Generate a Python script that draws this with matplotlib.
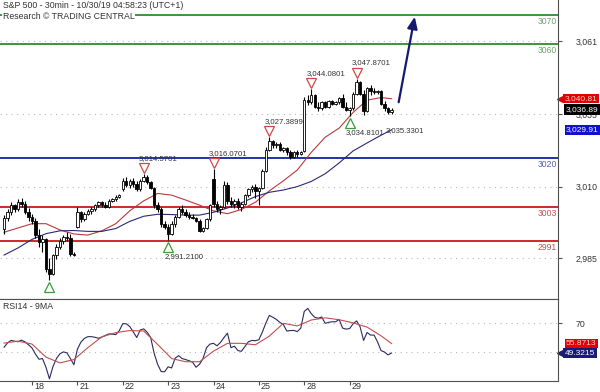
import matplotlib
matplotlib.use("Agg")
import matplotlib.pyplot as plt
import matplotlib.transforms as mtransforms

plt.rcParams["font.family"] = ["Liberation Sans", "DejaVu Sans"]

# S&P 500 30min bars, Oct 17 (last bars) to Oct 29
opens = [2995, 2999, 3001, 3003.5, 3002, 3004.5, 3003.8, 3001,
         2999.5, 2998, 2993, 2990.5, 2991.5, 2981, 2979.5, 2986, 2989, 2991, 2992.5, 2992, 2986.5,
         2996, 3001, 2998.5, 3000.5, 3001.5, 3002, 3003.5, 3004.5, 3003.5, 3003, 3005, 3005.5, 3006.5,
         3009, 3012, 3010.5, 3012, 3010.8, 3009, 3012, 3013.5, 3011.5, 3009.5, 3003.5, 3002, 2997,
         2995.8, 2993.5, 2997, 2999.5, 3002, 3001, 3000, 2999.5, 2999, 2998, 2994.5, 2995.5, 2998.5,
         3012.5, 3004, 3002, 3003, 3010.5, 3005, 3004, 3005, 3003, 3004, 3007, 3009, 3010,
         3008.5, 3009.5, 3015.5, 3023, 3026, 3024.5, 3025, 3023, 3023.5, 3022, 3020.5, 3022, 3021.5,
         3022.5, 3040.5, 3039.5, 3042, 3038, 3037.5, 3039.5, 3038, 3040, 3039, 3039.5, 3041, 3038,
         3037, 3037.5, 3042.5, 3046.5, 3042.5, 3036.5, 3044.5, 3043.5, 3043, 3043.5, 3039, 3037.5, 3036]
highs = [3000, 3002, 3004.5, 3004, 3005.5, 3006, 3005, 3002.5,
         3000.5, 2999, 2995, 2993, 2992, 2985, 2986.5, 2990, 2992, 2993, 2994, 2993.5, 2987,
         3003, 3001.5, 3001, 3002, 3003, 3004, 3005, 3005, 3004.5, 3005.5, 3006, 3007, 3007.5,
         3013, 3013.5, 3012.5, 3013, 3012, 3012.5, 3014.57, 3014, 3012, 3010, 3004.5, 3003, 2998,
         2997, 2998, 3000, 3003, 3003.5, 3002, 3001, 3000.5, 2999.5, 2998.5, 2996, 2999, 3004,
         3016.07, 3005, 3003.5, 3012, 3011.5, 3006.5, 3005.5, 3006, 3004.5, 3007.5, 3009.5, 3010.5, 3011,
         3010, 3016, 3024, 3027.39, 3026.5, 3025.5, 3025.5, 3024, 3024, 3023, 3022.5, 3023, 3022.5,
         3041.5, 3042, 3044.08, 3042.5, 3039.5, 3040, 3040, 3040.5, 3040.5, 3040, 3041.5, 3042.5, 3039.5,
         3038, 3043, 3047.87, 3047, 3044, 3045, 3045.5, 3044.5, 3044, 3044, 3040, 3038, 3037.5]
lows = [2993.5, 2998, 3000, 3001, 3001.5, 3003, 3000.5, 2998,
        2997, 2992, 2989, 2987, 2980, 2977.2, 2979, 2984.5, 2988, 2990, 2991, 2985.5, 2985.5,
        2995.5, 2997.5, 2998, 3000, 3000.5, 3001.5, 3003, 3003, 3002.5, 3002.5, 3004.5, 3005, 3006,
        3008.5, 3010, 3009.5, 3010, 3008.5, 3008.5, 3011.5, 3011, 3009, 3002.5, 3001, 2996, 2995,
        2991.21, 2993, 2996, 2999, 3000.5, 2999.5, 2998.5, 2998.5, 2997.5, 2994, 2994, 2995, 2998,
        3003, 3001, 3000.5, 3002.5, 3004, 3003, 3002.5, 3002, 3001.5, 3003.5, 3006.5, 3008, 3006,
        3003.5, 3009, 3015, 3022.5, 3023.5, 3023.5, 3022.5, 3022, 3021, 3019.5, 3020, 3020.5, 3021,
        3022, 3038.5, 3039, 3037.5, 3036.5, 3037, 3037.5, 3037.5, 3038.5, 3038.5, 3039, 3037.5, 3036.5,
        3034.81, 3037, 3042, 3042, 3035, 3036, 3042, 3042.5, 3042.5, 3038.5, 3036.5, 3035.5, 3035.33]
closes = [2999, 3001, 3003.5, 3002, 3004.5, 3003.8, 3001, 2999.5,
          2998, 2993, 2990.5, 2991.5, 2981, 2979.5, 2986, 2989, 2991, 2992.5, 2992, 2986.5, 2986,
          3001, 2998.5, 3000.5, 3001.5, 3002, 3003.5, 3004.5, 3003.5, 3003, 3005, 3005.5, 3006.5, 3007,
          3012, 3010.5, 3012, 3010.8, 3009, 3012, 3013.5, 3011.5, 3009.5, 3003.5, 3002, 2997, 2995.8,
          2993.5, 2997, 2999.5, 3002, 3001, 3000, 2999.5, 2999, 2998, 2994.5, 2995.5, 2998.5, 3003.5,
          3004, 3002, 3003, 3010.5, 3005, 3004, 3005, 3003, 3004, 3007, 3009, 3010, 3008.5,
          3009.5, 3015.5, 3023, 3026, 3024.5, 3025, 3023, 3023.5, 3022, 3020.5, 3022, 3021.5, 3022,
          3040.5, 3039.5, 3042, 3038, 3037.5, 3039.5, 3038, 3040, 3039, 3039.5, 3041, 3038, 3037,
          3037.5, 3042.5, 3046.5, 3042.5, 3036.5, 3044.5, 3043.5, 3043, 3043.5, 3039, 3037.5, 3036, 3036.89]

# first bar of each day and its label
day_start = [8, 21, 34, 47, 60, 73, 86, 99]
day_labels = ["18", "21", "22", "23", "24", "25", "28", "29"]

# moving averages, read every 4 bars
ma_idx = [0, 4, 8, 12, 16, 20, 24, 28, 32, 36, 40, 44, 48, 52, 56, 60, 64, 68, 72, 76,
          80, 84, 88, 92, 96, 100, 104, 108, 111]
ma_fast = [2994, 2995.5, 2997, 2997, 2994.8, 2993.4, 2993, 2994.5, 2997, 3001.5, 3005, 3007.6,
           3007, 3005.3, 3003.5, 3001.5, 3000.5, 3002, 3004.5, 3008.5, 3012, 3015.8, 3022,
           3027.3, 3030.5, 3036, 3040.3, 3041.2, 3040.8]
ma_slow = [2986, 2988.5, 2991.5, 2993.5, 2994.5, 2994.6, 2994.3, 2994.3, 2995.3, 2997.8, 2999.6,
           3000.3, 3000.2, 3000, 3000, 3001, 3002.5, 3004.3, 3006.5, 3008, 3008.8, 3010, 3011.8,
           3014.5, 3018.3, 3022.5, 3025.3, 3028, 3029.9]

rsi = [53.3, 56.3, 58, 57.5, 57.1, 58.2, 57, 55,
       52.8, 48.5, 45, 45.5, 39.5, 31.5, 39.9, 45.5, 48.8, 50.1, 49.4, 45.5, 41.2,
       51.9, 56.8, 59.4, 60.6, 60.6, 60.2, 59.5, 60.3, 61.4, 62.5, 62.4, 62, 64.7,
       69.6, 69.5, 67.6, 64, 60, 65.2, 66, 63.6, 60, 49, 41.5, 36.5, 36.4,
       39.8, 39, 45.7, 47.5, 45.5, 44.8, 44, 43, 39.5, 41.6, 45.5, 53, 55.5,
       56, 54.3, 56.6, 60, 63, 53, 54, 51, 50.5, 53.8, 57.1, 58, 57.8,
       58.5, 63.8, 70, 75.3, 74, 72.5, 70.5, 69, 64.5, 64.8, 64.9, 64.1, 66.5,
       78, 80.1, 76.5, 74, 73.3, 74.2, 69.8, 70.5, 70.9, 70.9, 72.5, 66.5, 65.8,
       66.2, 69.5, 71.5, 67.4, 58, 63.5, 61.7, 61.7, 57, 51, 50, 48, 49.3]
rsi_ma = [56.2, 57.5, 55.5, 46.5, 42.5, 44.8, 53, 60.5, 63.4, 64.8, 64.5, 55.2, 45.5, 43.3,
          43.3, 50.6, 56, 56, 55, 61, 69.8, 68, 72.1, 73.6, 72.3, 70.1, 67.2, 61.2, 55.9]

levels = [3070, 3060, 3020, 3003, 2991]
level_colors = ["#3a963a", "#3a963a", "#2030b0", "#d02828", "#d02828"]
level_text_colors = ["#6aa66a", "#6aa66a", "#5560a8", "#c05050", "#c05050"]

peaks = [(40, 3014.5701), (60, 3016.0701), (76, 3027.3899), (88, 3044.0801), (101, 3047.8701)]
troughs = [(13, 2977.2), (47, 2991.21), (99, 3034.8101)]
trough_labels = [(47, 2991.21), (99, 3034.8101), (111, 3035.3301)]

fig = plt.figure(figsize=(6, 3.92), dpi=100)
ax = fig.add_axes([0, 1 - 299 / 392, 558 / 600, 299 / 392])
ax2 = fig.add_axes([0, 11 / 392, 558 / 600, 82 / 392], sharex=ax)

edge = "#505050"
text_col = "#333333"

# price panel
for lv, c in zip(levels, level_colors):
    ax.axhline(lv, color=c, lw=1.4, zorder=1)
for lv, c in zip(levels, level_text_colors):
    ax.annotate(str(lv), xy=(1, lv), xycoords=ax.get_yaxis_transform(),
                xytext=(-1, -2), textcoords="offset pixels", ha="right", va="top",
                fontsize=6.2, color=c)

ax.plot(ma_idx, ma_fast, color="#b83a3a", lw=0.8, zorder=2)
ax.plot(ma_idx, ma_slow, color="#2a2a78", lw=0.8, zorder=2)

idx = range(len(closes))
ax.vlines(idx, lows, highs, color="black", lw=0.8, zorder=3)
for i in idx:
    o, c = opens[i], closes[i]
    h = max(abs(c - o), 0.25)
    ax.bar(i, h, bottom=min(o, c), width=0.7, color="white" if c >= o else "black",
           edgecolor="black", lw=0.6, zorder=4)

up = mtransforms.offset_copy(ax.transData, fig=fig, x=0, y=6, units="dots")
down = mtransforms.offset_copy(ax.transData, fig=fig, x=0, y=-7, units="dots")
for i, v in peaks:
    ax.plot(i, v, marker="v", ms=6.5, mfc="white", mec="#d04848", mew=0.9,
            transform=up, zorder=5)
    ax.annotate(f"{v:,.4f}", xy=(i, v), xytext=(-5, 12), textcoords="offset pixels",
                ha="left", va="bottom", fontsize=5.6, color=text_col)
for i, v in troughs:
    ax.plot(i, v, marker="^", ms=6.5, mfc="white", mec="#3a9a3a", mew=0.9,
            transform=down, zorder=5)
for k, (i, v) in enumerate(trough_labels):
    ax.annotate(f"{v:,.4f}", xy=(i, v), xytext=(-6 if k == 2 else -4, -13),
                textcoords="offset pixels", ha="left", va="top", fontsize=5.6, color=text_col)

# projected move
ax.annotate("", xy=(117.8, 3070.5), xytext=(112.9, 3038.6),
            arrowprops=dict(arrowstyle="-|>,head_length=0.7,head_width=0.3",
                            color="#141a70", lw=1.6), zorder=6)

ax.set_xlim(-1.17, 158.7)
ax.set_ylim(2970.6, 3075.4)
ax.yaxis.tick_right()
ax.set_yticks([2985, 3010, 3035.5, 3061])
ax.set_yticklabels(["2,985", "3,010", "3,035", "3,061"])
ax.tick_params(axis="y", direction="out", length=3, pad=10, labelsize=6.3,
               color=edge, labelcolor=text_col)
ax.tick_params(axis="x", bottom=False, labelbottom=False)
ax.grid(axis="y", color="#b8b8b8", lw=0.8, ls=(0, (1, 4)))
for s in ["left", "top"]:
    ax.spines[s].set_visible(False)
for s in ["right", "bottom"]:
    ax.spines[s].set_color(edge)

ax.text(0.005, 0.997, "S&P 500 - 30min - 10/30/19 04:58:23 (UTC+1)", transform=ax.transAxes,
        ha="left", va="top", fontsize=6.3, color=text_col)
ax.text(0.005, 0.96, "Research \u00a9 TRADING CENTRAL", transform=ax.transAxes,
        ha="left", va="top", fontsize=6.3, color=text_col,
        bbox=dict(boxstyle="square,pad=0.05", fc="white", ec="none"), zorder=7)

ytr = ax.get_yaxis_transform()
ax.plot(1.004, 3040.81, marker="<", ms=5, color="#e00000", transform=ytr, clip_on=False)
ax.text(1.012, 3040.81, "3,040.81", transform=ytr, ha="left", va="center", fontsize=6,
        color="#ffd0d0", clip_on=False,
        bbox=dict(boxstyle="square,pad=0.15", fc="#e00000", ec="none"))
ax.text(1.014, 3036.89, "3,036.89", transform=ytr, ha="left", va="center", fontsize=6,
        color="white", clip_on=False,
        bbox=dict(boxstyle="square,pad=0.25", fc="black", ec="none"))
ax.text(1.014, 3029.91, "3,029.91", transform=ytr, ha="left", va="center", fontsize=6,
        color="white", clip_on=False,
        bbox=dict(boxstyle="square,pad=0.15", fc="#1010d0", ec="none"))

# RSI panel
ax2.plot(idx, rsi, color="#2a2a60", lw=0.8)
ax2.plot(ma_idx, rsi_ma, color="#c05050", lw=0.8)
ax2.set_ylim(30, 86.6)
ax2.set_yticks([50, 70])
ax2.set_yticklabels(["50", "70"])
ax2.yaxis.tick_right()
ax2.tick_params(axis="y", direction="out", length=3, pad=10, labelsize=6.3,
                color=edge, labelcolor=text_col)
ax2.grid(axis="y", color="#b8b8b8", lw=0.8, ls=(0, (1, 4)))
ax2.set_xticks(day_start)
ax2.tick_params(axis="x", direction="out", length=3, color=edge, labelbottom=False)
for d, lab in zip(day_start, day_labels):
    ax2.annotate(lab, xy=(d, 0), xycoords=ax2.get_xaxis_transform(), xytext=(2, -1),
                 textcoords="offset pixels", ha="left", va="top", fontsize=6.5, color=text_col,
                 annotation_clip=False)
ax2.spines["left"].set_visible(False)
for s in ["right", "top", "bottom"]:
    ax2.spines[s].set_color(edge)
ax2.text(0.005, 0.96, "RSI14 - 9MA", transform=ax2.transAxes, ha="left", va="top",
         fontsize=6.3, color=text_col)

ytr2 = ax2.get_yaxis_transform()
ax2.text(1.014, 55.87, "55.8713", transform=ytr2, ha="left", va="center", fontsize=6,
         color="#ffd0d0", clip_on=False,
         bbox=dict(boxstyle="square,pad=0.15", fc="#e00000", ec="none"))
ax2.plot(1.004, 49.32, marker="<", ms=5, color="#1a1a7a", transform=ytr2, clip_on=False)
ax2.text(1.012, 49.32, "49.3215", transform=ytr2, ha="left", va="center", fontsize=6,
         color="white", clip_on=False,
         bbox=dict(boxstyle="square,pad=0.2", fc="#1a1a7a", ec="none"))

fig.savefig("out.png", dpi=100)
